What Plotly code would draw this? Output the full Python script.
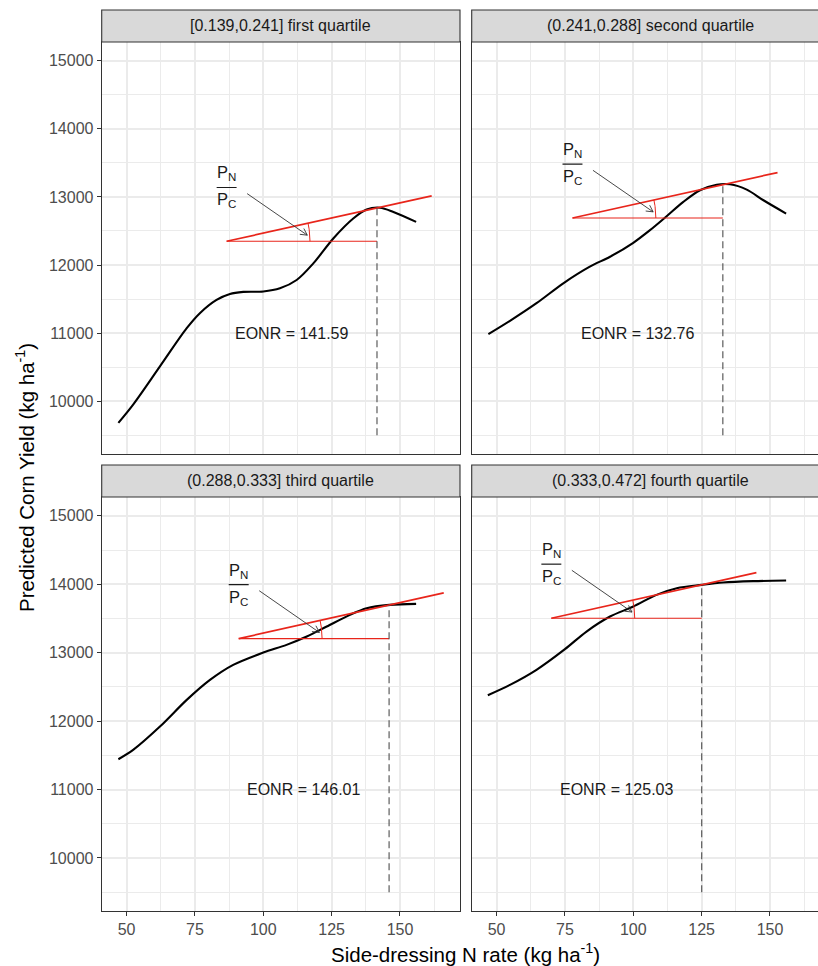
import numpy as np
import plotly.graph_objects as go

# ---------------------------------------------------------------- data
facet_labels = [
    "[0.139,0.241] first quartile",
    "(0.241,0.288] second quartile",
    "(0.288,0.333] third quartile",
    "(0.333,0.472] fourth quartile",
]

n_rate_q1 = [47.0, 52.4, 62.2, 72.0, 76.8, 82.9, 87.8, 92.7, 100.0, 106.1, 112.2,
             118.3, 125.6, 132.9, 137.8, 142.7, 147.6, 155.9]
yield_q1 = [9683, 9951, 10512, 11073, 11293, 11488, 11576, 11605, 11612, 11658, 11780,
            12024, 12390, 12683, 12815, 12842, 12780, 12634]

n_rate_q2 = [47.0, 54.9, 64.6, 74.4, 84.1, 91.5, 100.0, 106.1, 112.2, 118.3, 124.4,
             130.5, 135.4, 141.5, 147.6, 155.9]
yield_q2 = [10985, 11180, 11439, 11732, 11976, 12122, 12327, 12512, 12717, 12927, 13098,
            13180, 13185, 13107, 12951, 12756]

n_rate_q3 = [47.0, 52.4, 62.2, 72.0, 80.5, 89.0, 100.0, 108.5, 115.9, 123.2, 131.7,
             137.8, 146.1, 155.9]
yield_q3 = [11443, 11579, 11920, 12310, 12602, 12822, 13002, 13114, 13236, 13382, 13553,
            13650, 13699, 13713]

n_rate_q4 = [46.8, 54.9, 64.6, 75.0, 82.9, 91.5, 100.0, 108.5, 115.9, 125.0, 132.9,
             143.9, 155.9]
yield_q4 = [12378, 12529, 12749, 13051, 13309, 13528, 13674, 13845, 13942, 13991, 14025,
            14045, 14055]

eonr = [141.59, 132.76, 146.01, 125.03]
yield_at_eonr = [12838, 13180, 13695, 13993]
price_ratio = 8.9          # P_N / P_C, slope of the tangent line
dash_floor = 9500          # lower end of the EONR drop line

x_ticks = [50, 75, 100, 125, 150]
y_ticks = [10000, 11000, 12000, 13000, 14000, 15000]
y_tick_labels = ["10000", "11000", "12000", "13000", "14000", "15000"]

curves = [(n_rate_q1, yield_q1), (n_rate_q2, yield_q2),
          (n_rate_q3, yield_q3), (n_rate_q4, yield_q4)]

# ---------------------------------------------------------------- layout geometry
W, H = 818, 966
FONT = "Liberation Sans, Arial, Helvetica, sans-serif"
BORDER = "#333333"
GRID = "#EBEBEB"
RED = "#E8251B"

x_left_px = (101.7, 460.0)
x_right_px = (471.7, 818.0)
row_px = [(42.0, 454.0), (497.0, 911.0)]
strip_px = [(10.0, 42.0), (465.0, 497.0)]

x_range_full = [40.9, 171.95]
px_per_x = (x_left_px[1] - x_left_px[0]) / (x_range_full[1] - x_range_full[0])
x_range_right = [x_range_full[0],
                 x_range_full[0] + (x_right_px[1] - x_right_px[0]) / px_per_x]
y_range = [9225, 15275]


def fx(p):
    return p / W


def fy(p):
    return 1 - p / H


px_per_y = (row_px[0][1] - row_px[0][0]) / (y_range[1] - y_range[0])

fig = go.Figure()

before, after = 55.0, 20.0      # tangent extent around the EONR
arc_r = 30.5                    # angle arc radius (x units)


def line(xa, ya, xs, ys, color, width, dash=None, shape="linear"):
    fig.add_trace(go.Scatter(x=xs, y=ys, mode="lines", xaxis=xa, yaxis=ya,
                             line=dict(color=color, width=width, dash=dash, shape=shape,
                                       smoothing=0.9 if shape == "spline" else None),
                             hoverinfo="skip", showlegend=False))


for i, (xs, ys) in enumerate(curves):
    sfx = "" if i == 0 else str(i + 1)
    xa, ya = "x" + sfx, "y" + sfx
    col = i % 2
    row = i // 2

    e = eonr[i]
    ye = yield_at_eonr[i]
    x0 = e - before
    h = ye - before * price_ratio

    # fitted response curve
    line(xa, ya, xs, ys, "black", 2.1, shape="spline")
    # tangent line with slope P_N / P_C
    line(xa, ya, [x0, e + after], [h, ye + after * price_ratio], RED, 1.7)
    # horizontal reference
    line(xa, ya, [x0, e], [h, h], RED, 1.1)
    # angle arc (circular in screen space)
    theta = np.arctan(price_ratio * px_per_y / px_per_x)
    t = np.linspace(0, theta, 20)
    r_px = arc_r * px_per_x
    line(xa, ya, x0 + r_px * np.cos(t) / px_per_x, h + r_px * np.sin(t) / px_per_y,
         RED, 1.0)
    # EONR drop line
    line(xa, ya, [e, e], [dash_floor, ye], "#4D4D4D", 1.1, dash="7px,4px")

    # arrow from the fraction label to the angle, with an open head
    tail = (x0 + 7.5, h + 700)
    head = (x0 + 29.5, h + 90)
    line(xa, ya, [tail[0], head[0]], [tail[1], head[1]], "#333333", 0.9)
    dxp = (head[0] - tail[0]) * px_per_x
    dyp = (head[1] - tail[1]) * px_per_y
    n = np.hypot(dxp, dyp)
    ux, uy = dxp / n, dyp / n
    wing_len, wing_ang = 7.5, np.radians(28)
    wx, wy = [], []
    for s in (1, -1):
        c, sn = np.cos(s * wing_ang), np.sin(s * wing_ang)
        rx, ry = ux * c - uy * sn, ux * sn + uy * c
        wx.append(head[0] - wing_len * rx / px_per_x)
        wy.append(head[1] - wing_len * ry / px_per_y)
    line(xa, ya, [wx[0], head[0], wx[1]], [wy[0], head[1], wy[1]], "#333333", 0.9)

    # EONR text
    fig.add_annotation(x=e - 31, y=11000, xref=xa, yref=ya, showarrow=False,
                       text=f"EONR = {e:.2f}",
                       font=dict(family=FONT, size=16, color="#1A1A1A"))

    # price ratio label as a stacked fraction
    frac_y = h + 790
    fig.add_annotation(x=x0, y=frac_y, xref=xa, yref=ya, showarrow=False,
                       text="P<sub>N</sub>", yanchor="bottom", yshift=2,
                       font=dict(family=FONT, size=16.5, color="#1A1A1A"))
    fig.add_annotation(x=x0, y=frac_y, xref=xa, yref=ya, showarrow=False,
                       text="P<sub>C</sub>", yanchor="top", yshift=-1,
                       font=dict(family=FONT, size=16.5, color="#1A1A1A"))
    fig.add_shape(type="line", xref=xa, yref=ya,
                  x0=x0 - 3.65, x1=x0 + 3.65, y0=frac_y, y1=frac_y,
                  line=dict(color="#1A1A1A", width=1.2))

    # axes
    xdom = x_left_px if col == 0 else x_right_px
    rng = x_range_full if col == 0 else x_range_right
    rpx = row_px[row]
    bottom = row == 1
    left = col == 0
    fig.layout["xaxis" + sfx] = dict(
        domain=[fx(xdom[0]), fx(xdom[1])], range=rng, anchor=ya,
        tickmode="array", tickvals=x_ticks,
        showgrid=True, gridcolor=GRID, gridwidth=1.5,
        minor=dict(tickmode="array", tickvals=[37.5, 62.5, 87.5, 112.5, 137.5, 162.5],
                   showgrid=True, gridcolor=GRID, gridwidth=0.8),
        showline=True, linecolor=BORDER, linewidth=1.1, mirror=True,
        zeroline=False, ticks="outside" if bottom else "", ticklen=4,
        tickcolor=BORDER, tickwidth=1.1, showticklabels=bottom,
        tickfont=dict(family=FONT, size=16, color="#4D4D4D"),
    )
    fig.layout["yaxis" + sfx] = dict(
        domain=[fy(rpx[1]), fy(rpx[0])], range=y_range, anchor=xa,
        tickmode="array", tickvals=y_ticks, ticktext=y_tick_labels,
        showgrid=True, gridcolor=GRID, gridwidth=1.5,
        minor=dict(tickmode="array",
                   tickvals=[9500, 10500, 11500, 12500, 13500, 14500],
                   showgrid=True, gridcolor=GRID, gridwidth=0.8),
        showline=True, linecolor=BORDER, linewidth=1.1, mirror=left,
        zeroline=False, ticks="outside" if left else "", ticklen=4,
        tickcolor=BORDER, tickwidth=1.1, showticklabels=left,
        tickfont=dict(family=FONT, size=16, color="#4D4D4D"),
    )

    # facet strip
    sp = strip_px[row]
    x_end = xdom[1] if col == 0 else W + 20
    fig.add_shape(type="rect", xref="paper", yref="paper",
                  x0=fx(xdom[0]), x1=fx(x_end), y0=fy(sp[1]), y1=fy(sp[0]),
                  fillcolor="#D9D9D9", line=dict(color=BORDER, width=1.1),
                  layer="above")
    full_right = xdom[0] + (x_left_px[1] - x_left_px[0])
    fig.add_annotation(x=fx((xdom[0] + full_right) / 2), y=fy((sp[0] + sp[1]) / 2),
                       xref="paper", yref="paper", showarrow=False,
                       text=facet_labels[i], xanchor="center", yanchor="middle",
                       font=dict(family=FONT, size=16, color="#1A1A1A"))

# shared axis titles
panels_span = (x_left_px[0], x_right_px[0] + (x_left_px[1] - x_left_px[0]))
fig.add_annotation(x=fx(sum(panels_span) / 2), y=fy(953), xref="paper", yref="paper",
                   showarrow=False, text="Side-dressing N rate (kg ha<sup>-1</sup>)",
                   xanchor="center", yanchor="middle",
                   font=dict(family=FONT, size=20.5, color="black"))
fig.add_annotation(x=fx(25), y=fy(478), xref="paper", yref="paper", showarrow=False,
                   text="Predicted Corn Yield (kg ha<sup>-1</sup>)", textangle=-90,
                   xanchor="center", yanchor="middle",
                   font=dict(family=FONT, size=20.5, color="black"))

fig.update_layout(width=W, height=H, margin=dict(l=0, r=0, t=0, b=0),
                  paper_bgcolor="white", plot_bgcolor="white", showlegend=False)

fig.write_html("out.html")
